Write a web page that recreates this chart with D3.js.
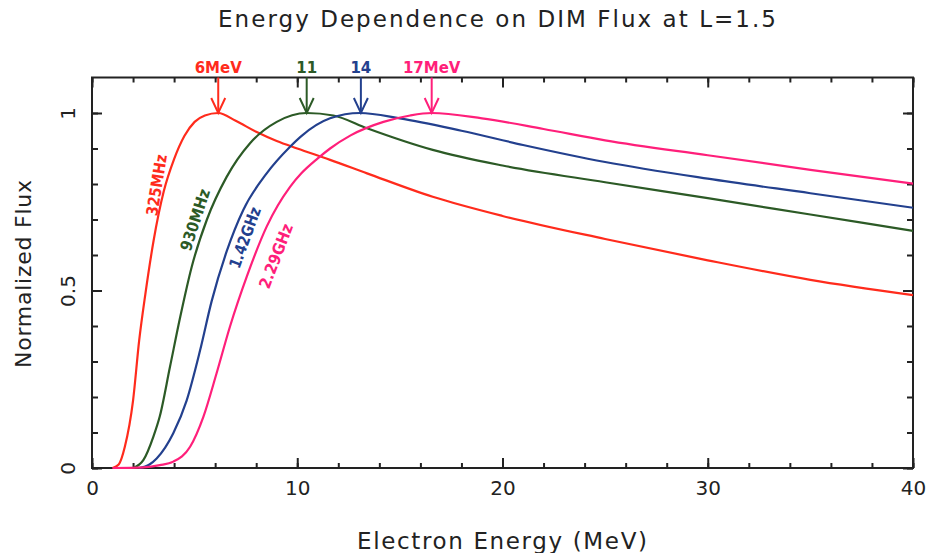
<!DOCTYPE html>
<meta charset="utf-8">
<style>
  body { margin: 0; background: #fff; }
  text { font-family: "DejaVu Sans", sans-serif; }
  .frame { fill: none; stroke: #222; stroke-width: 2px; }
  .tick line { stroke: #222; stroke-width: 2px; }
  .curve { fill: none; stroke-width: 2.2px; }
</style>
<script src="https://d3js.org/d3.v7.min.js"></script>
<div id="chart"></div>
<script>
// curves: [energy MeV, normalized flux]
const flux325MHz = [[1.0,0],[1.3,0.01],[1.6,0.06],[2.0,0.19],[2.3,0.36],[2.6,0.49],[3.0,0.64],[3.5,0.78],[4.0,0.87],[4.5,0.935],[5.0,0.975],[5.5,0.993],[6.15,1.0],[7,0.978],[8,0.947],[9,0.921],[10,0.9],[11.6,0.868],[13.4,0.83],[16.6,0.764],[20,0.71],[25,0.645],[30,0.585],[35,0.53],[40,0.487]];
const flux930MHz = [[2.0,0],[2.5,0.022],[3.0,0.09],[3.3,0.145],[3.8,0.285],[4.3,0.426],[4.86,0.567],[5.6,0.70],[6.56,0.82],[7.7,0.915],[9.0,0.975],[10.46,1.0],[11.76,0.993],[13.4,0.957],[16.6,0.896],[20,0.852],[25,0.805],[30,0.76],[35,0.714],[40,0.668]];
const flux142GHz = [[2.3,0],[2.8,0.01],[3.15,0.027],[3.96,0.098],[4.61,0.19],[5.26,0.33],[5.83,0.47],[6.56,0.61],[7.37,0.727],[8.51,0.83],[9.65,0.905],[10.2,0.935],[11.6,0.985],[13.06,1.0],[15.0,0.985],[18,0.95],[21,0.91],[25,0.862],[30,0.815],[35,0.774],[40,0.733]];
const flux229GHz = [[1.0,0],[2.5,0.002],[3.3,0.008],[3.96,0.018],[4.78,0.06],[5.43,0.145],[6.07,0.267],[6.72,0.398],[7.54,0.539],[8.51,0.68],[9.65,0.792],[10.2,0.83],[11.0,0.872],[11.6,0.9],[12.6,0.937],[14.2,0.975],[15.5,0.993],[16.55,1.0],[19,0.985],[22,0.955],[25,0.923],[30,0.881],[35,0.84],[40,0.801]];

const seriesNames = ["325MHz", "930MHz", "1.42GHz", "2.29GHz"];
const seriesColors = ["#ff2b1c", "#2c5a26", "#23408e", "#ff1f7a"];
// rotated curve labels: [energy, flux, angle]
const labelPos = [[3.15,0.797,-81],[5.02,0.699,-72],[7.45,0.649,-70],[8.96,0.597,-69]];

// peak arrows
const peakEnergy = [6.15, 10.46, 13.1, 16.55];
const peakLabels = ["6MeV", "11", "14", "17MeV"];

const xMajor = [0, 10, 20, 30, 40];
const yMajor = [0, 0.5, 1];

const W = 930, H = 553;
const plotLeft = 92, plotRight = 913, plotTop = 77.5, plotBottom = 468;

const svg = d3.select("#chart").append("svg")
    .attr("width", W).attr("height", H);

const x = d3.scaleLinear().domain([0, 40]).range([plotLeft, plotRight]);
const y = d3.scaleLinear().domain([0, 1.1]).range([plotBottom, plotTop]);

const xMinor = d3.range(0, 40.1, 2);
const yMinor = d3.range(0, 1.05, 0.1);

// minor ticks, all four sides
svg.append("g").attr("transform", `translate(0,${plotBottom})`)
  .call(d3.axisBottom(x).tickValues(xMinor).tickSize(-5).tickFormat(""));
svg.append("g").attr("transform", `translate(0,${plotTop})`)
  .call(d3.axisTop(x).tickValues(xMinor).tickSize(-5).tickFormat(""));
svg.append("g").attr("transform", `translate(${plotLeft},0)`)
  .call(d3.axisLeft(y).tickValues(yMinor).tickSize(-6).tickFormat(""));
svg.append("g").attr("transform", `translate(${plotRight},0)`)
  .call(d3.axisRight(y).tickValues(yMinor).tickSize(-6).tickFormat(""));

// major ticks
const xAxis = svg.append("g").attr("transform", `translate(0,${plotBottom})`)
  .call(d3.axisBottom(x).tickValues(xMajor).tickSize(-10).tickPadding(13).tickFormat(d3.format("d")));
svg.append("g").attr("transform", `translate(0,${plotTop})`)
  .call(d3.axisTop(x).tickValues(xMajor).tickSize(-10).tickFormat(""));
const yAxis = svg.append("g").attr("transform", `translate(${plotLeft},0)`)
  .call(d3.axisLeft(y).tickValues(yMajor).tickSize(-10).tickFormat(d => d));
svg.append("g").attr("transform", `translate(${plotRight},0)`)
  .call(d3.axisRight(y).tickValues(yMajor).tickSize(-10).tickFormat(""));

svg.selectAll(".domain").remove();

xAxis.selectAll("text")
  .style("font-size", "20px").attr("fill", "#222");
yAxis.selectAll("text")
  .style("font-size", "20px").attr("fill", "#222")
  .attr("x", 0).attr("dy", 0)
  .attr("text-anchor", "middle")
  .attr("transform", "translate(-17,0) rotate(-90)");

svg.append("rect").attr("class", "frame")
  .attr("x", plotLeft).attr("y", plotTop)
  .attr("width", plotRight - plotLeft).attr("height", plotBottom - plotTop);

// curves
const line = d3.line()
  .x(d => x(d[0])).y(d => y(d[1]))
  .curve(d3.curveMonotoneX);

const allSeries = [flux325MHz, flux930MHz, flux142GHz, flux229GHz];
svg.append("g").selectAll("path")
  .data(allSeries)
  .join("path")
    .attr("class", "curve")
    .attr("d", line)
    .attr("stroke", (d, i) => seriesColors[i]);

// curve labels
svg.append("g").selectAll("text")
  .data(labelPos)
  .join("text")
    .attr("transform", d => `translate(${x(d[0])},${y(d[1])}) rotate(${d[2]})`)
    .attr("text-anchor", "middle")
    .attr("dy", "0.35em")
    .style("font-size", "16px")
    .style("font-weight", "bold")
    .attr("textLength", (d, i) => [62, 64, 64, 68][i])
    .attr("lengthAdjust", "spacingAndGlyphs")
    .attr("fill", (d, i) => seriesColors[i])
    .text((d, i) => seriesNames[i]);

// peak arrows
const arrows = svg.append("g").selectAll("g")
  .data(peakEnergy)
  .join("g")
    .attr("stroke", (d, i) => seriesColors[i])
    .attr("fill", "none")
    .attr("stroke-width", 2);
arrows.append("line")
  .attr("x1", d => x(d)).attr("x2", d => x(d))
  .attr("y1", plotTop).attr("y2", y(1));
arrows.append("path")
  .attr("d", d => `M${x(d) - 7},${y(1) - 15} L${x(d)},${y(1)} L${x(d) + 7},${y(1) - 15}`);

svg.append("g").selectAll("text")
  .data(peakEnergy)
  .join("text")
    .attr("x", d => x(d))
    .attr("y", 73)
    .attr("text-anchor", "middle")
    .style("font-size", "15px")
    .style("font-weight", "bold")
    .attr("fill", (d, i) => seriesColors[i])
    .text((d, i) => peakLabels[i]);

// titles
svg.append("text")
  .attr("x", 497).attr("y", 27)
  .attr("text-anchor", "middle")
  .style("font-size", "23px").attr("fill", "#222")
  .attr("textLength", 558).attr("lengthAdjust", "spacing")
  .text("Energy Dependence on DIM Flux at L=1.5");

svg.append("text")
  .attr("x", 502).attr("y", 549)
  .attr("text-anchor", "middle")
  .style("font-size", "23px").attr("fill", "#222")
  .attr("textLength", 290).attr("lengthAdjust", "spacing")
  .text("Electron Energy (MeV)");

svg.append("text")
  .attr("transform", "translate(31,274) rotate(-90)")
  .attr("text-anchor", "middle")
  .style("font-size", "22px").attr("fill", "#222")
  .attr("textLength", 188).attr("lengthAdjust", "spacing")
  .text("Normalized Flux");
</script>
